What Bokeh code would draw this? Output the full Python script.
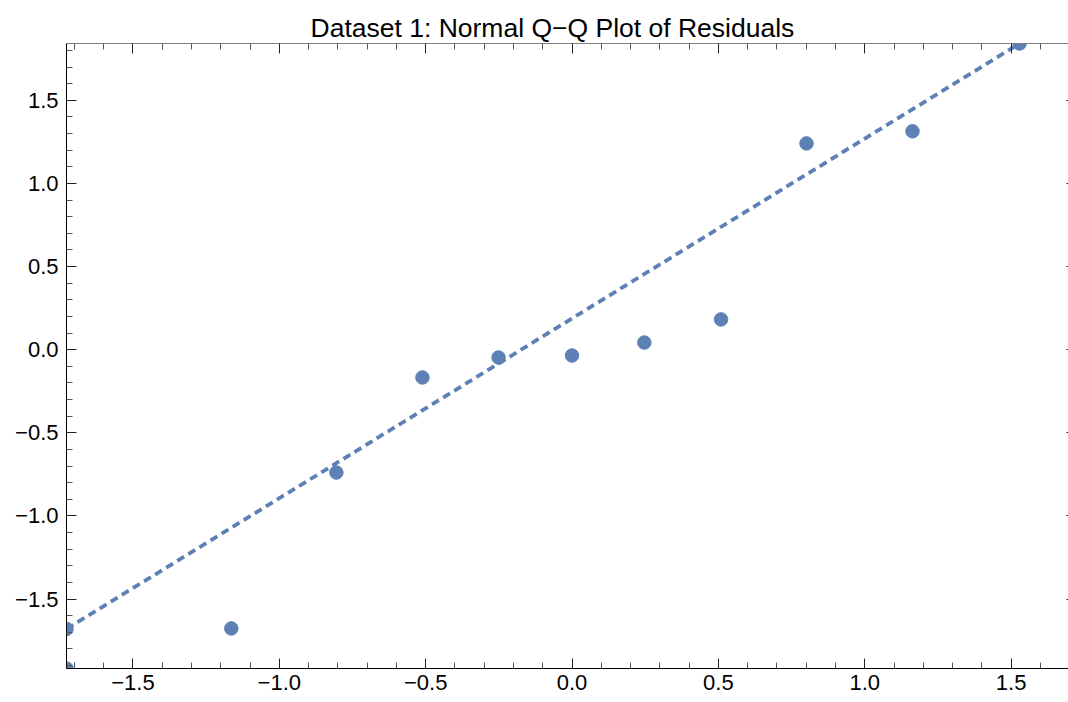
from bokeh.plotting import figure
from bokeh.models import Range1d, LinearAxis, FixedTicker, CustomJSTickFormatter
from bokeh.embed import file_html
from bokeh.resources import INLINE

# Data
theoretical_q = [-1.727, -1.727, -1.164, -0.805, -0.511, -0.251, 0.0, 0.247, 0.509, 0.801, 1.163, 1.529]
residual_q = [-1.918, -1.680, -1.677, -0.739, -0.167, -0.047, -0.035, 0.043, 0.182, 1.241, 1.314, 1.842]
ref_line_x = [-1.727, 1.529]
ref_line_y = [-1.680, 1.842]

x_ticks = [-1.5, -1.0, -0.5, 0.0, 0.5, 1.0, 1.5]
x_tick_labels = ["\u22121.5", "\u22121.0", "\u22120.5", "0.0", "0.5", "1.0", "1.5"]
x_minor = [-1.7, -1.6, -1.4, -1.3, -1.2, -1.1, -0.9, -0.8, -0.7, -0.6, -0.4, -0.3, -0.2, -0.1,
           0.1, 0.2, 0.3, 0.4, 0.6, 0.7, 0.8, 0.9, 1.1, 1.2, 1.3, 1.4, 1.6]
y_ticks = [-1.5, -1.0, -0.5, 0.0, 0.5, 1.0, 1.5]
y_tick_labels = ["\u22121.5", "\u22121.0", "\u22120.5", "0.0", "0.5", "1.0", "1.5"]
y_minor = [-1.9, -1.8, -1.7, -1.6, -1.4, -1.3, -1.2, -1.1, -0.9, -0.8, -0.7, -0.6, -0.4, -0.3, -0.2, -0.1,
           0.1, 0.2, 0.3, 0.4, 0.6, 0.7, 0.8, 0.9, 1.1, 1.2, 1.3, 1.4, 1.6, 1.7, 1.8]

title_text = "Dataset 1: Normal Q\u2212Q Plot of Residuals"

COLOR = "#5E81B5"
FONT = "Liberation Sans"

p = figure(width=1068, height=701, output_backend="svg", toolbar_location=None,
           x_range=Range1d(-1.727, 1.696), y_range=Range1d(-1.918, 1.842),
           x_axis_location=None, y_axis_location=None,
           min_border_left=66, min_border_right=0, min_border_top=43, min_border_bottom=33)
p.grid.visible = False
p.outline_line_color = None
p.background_fill_color = "white"
p.border_fill_color = "white"

p.title.text = title_text
p.title.text_font = FONT
p.title.text_font_size = "26.5px"
p.title.text_font_style = "normal"
p.title.text_color = "black"
p.title.align = "left"
p.title.offset = 244
p.title.standoff = 1

def make_axis(ticks, minor, labels, show_labels, line_color, major_in=10, minor_in=6, standoff=8):
    ax = LinearAxis(ticker=FixedTicker(ticks=ticks, minor_ticks=minor))
    ax.axis_line_color = line_color
    ax.axis_line_width = 1
    ax.major_tick_in = major_in
    ax.major_tick_out = 0
    ax.minor_tick_in = minor_in
    ax.minor_tick_out = 0
    ax.major_tick_line_color = "#222222"
    ax.minor_tick_line_color = "#555555"
    if show_labels:
        ax.major_label_overrides = {t: l for t, l in zip(ticks, labels)}
        ax.major_label_text_font = FONT
        ax.major_label_text_font_size = "22px"
        ax.major_label_text_color = "black"
        ax.major_label_standoff = standoff
    else:
        ax.formatter = CustomJSTickFormatter(code="return ''")
        ax.major_label_text_font_size = "0px"
        ax.major_label_standoff = 0
    return ax

p.add_layout(make_axis(x_ticks, x_minor, x_tick_labels, True, "black", standoff=6), "below")
p.add_layout(make_axis(y_ticks, y_minor, y_tick_labels, True, "black"), "left")
p.add_layout(make_axis(x_ticks, x_minor, x_tick_labels, False, "#808080"), "above")
p.add_layout(make_axis(y_ticks, y_minor, y_tick_labels, False, None, major_in=2, minor_in=0), "right")

p.line(ref_line_x, ref_line_y, line_color=COLOR, line_width=3.8, line_dash="8 5")
p.scatter(theoretical_q, residual_q, size=13.5, fill_color=COLOR, line_color=COLOR)

open("out.html", "w").write(file_html(p, INLINE))
